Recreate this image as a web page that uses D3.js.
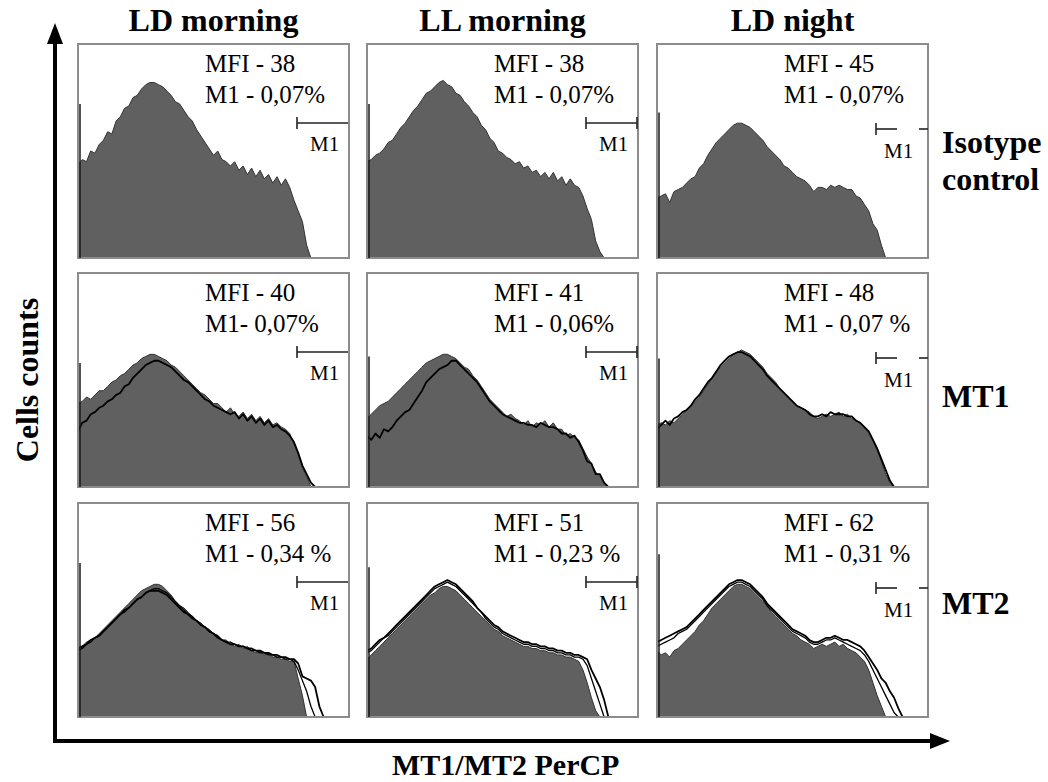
<!DOCTYPE html>
<html>
<head>
<meta charset="utf-8">
<script src="https://cdn.jsdelivr.net/npm/d3@7"></script>
<style>
  body { margin: 0; background: #fff; }
  svg text { font-family: "Liberation Serif", "Times New Roman", serif; }
</style>
</head>
<body>
<div id="chart"></div>
<script>
// column / row headings
const columns = ['LD morning', 'LL morning', 'LD night'];
const rowLabels = [['Isotype', 'control'], ['MT1'], ['MT2']];

// panel annotations, row by row
const mfiLabels = [
    ['MFI - 38', 'MFI - 38', 'MFI - 45'],
    ['MFI - 40', 'MFI - 41', 'MFI - 48'],
    ['MFI - 56', 'MFI - 51', 'MFI - 62']
];
const m1Labels = [
    ['M1 - 0,07%', 'M1 - 0,07%', 'M1 - 0,07%'],
    ['M1- 0,07%', 'M1 - 0,06%', 'M1 - 0,07 %'],
    ['M1 - 0,34 %', 'M1 - 0,23 %', 'M1 - 0,31 %']
];

// first channel spike (% of panel height)
const spikes = [[72, 72, 68], [58, 61, 60], [72, 70, 76]];

// histogram counts (% of panel height), one value per bin
// isotype control (filled grey)
const isoLDm = [44,46,45,50,49,53,55,59,58,64,66,70,71,75,76,79,81,82,82,81,80,78,76,73,72,69,66,64,60,57,54,51,48,50,46,45,43,45,41,43,39,42,38,41,37,39,35,38,34,37,33,27,22,17,6,0];
const isoLLm = [45,46,48,49,51,54,55,58,61,63,66,69,71,74,77,78,80,82,83,81,80,77,76,73,71,68,66,62,60,56,54,50,49,47,46,44,45,42,43,40,41,38,40,37,40,36,38,34,37,34,33,29,23,18,8,3,0];
const isoLDn = [28,29,30,26,31,32,33,35,37,38,42,44,48,51,54,56,58,60,62,63,63,62,61,59,57,55,52,50,48,46,43,42,40,38,37,36,34,31,33,33,32,34,33,34,33,32,32,29,28,25,22,16,13,6,0];

// MT1 stained: grey fill + black overlay
const mt1LDmFill = [39,40,42,41,43,45,45,47,49,50,52,53,55,57,58,60,61,62,62,61,60,59,57,56,54,52,50,48,46,44,43,41,39,39,37,35,37,34,33,35,32,34,31,33,30,32,29,30,28,27,25,20,15,9,5,0];
const mt1LDmLine = [26,30,31,34,35,37,38,40,41,43,44,47,48,51,53,55,57,58,59,59,58,57,56,54,52,50,49,47,45,43,41,40,38,37,36,35,34,35,32,34,31,33,30,32,29,31,28,29,27,26,24,21,16,10,6,2,0];
const mt1LLmFill = [32,34,36,38,39,40,42,44,46,48,50,52,54,56,58,59,60,61,62,62,61,60,58,56,55,52,50,47,44,41,39,37,35,33,34,32,31,29,31,28,30,29,31,28,30,27,27,24,25,23,22,18,14,11,7,5,2,0];
const mt1LLmLine = [24,22,25,23,27,26,28,31,33,35,36,39,42,45,49,51,53,55,56,57,59,59,57,55,53,51,49,46,43,40,38,36,34,33,32,31,30,30,29,29,28,30,29,28,28,27,25,25,23,24,21,17,12,11,6,6,2,0];
const mt1LDnFill = [29,30,29,31,30,32,34,36,38,40,42,45,48,51,54,56,58,60,62,63,64,63,62,60,58,56,53,51,49,46,44,42,40,38,37,36,35,33,32,33,34,33,34,35,33,34,32,31,30,28,25,22,17,12,6,2,0];
const mt1LDnLine = [27,29,31,29,32,33,35,36,38,41,43,46,49,51,54,57,59,61,62,63,63,62,61,59,57,55,52,50,48,46,44,42,40,38,37,36,34,33,33,34,33,35,34,34,34,33,33,31,30,28,26,22,18,13,8,3,0];

// MT2 stained: grey fill + two black overlays
const mt2LDmFill = [31,33,35,36,37,39,41,43,45,47,49,51,53,55,57,59,60,61,62,62,61,59,57,54,52,51,49,47,45,44,42,41,39,38,36,36,34,33,34,32,33,31,30,31,29,30,28,28,27,27,26,26,18,10,0];
const mt2LDmLine = [32,33,34,36,37,38,40,42,44,46,48,50,51,53,55,56,58,59,59,59,58,57,55,53,51,49,48,46,45,43,42,40,39,37,36,35,34,34,33,33,32,32,31,31,30,30,29,29,28,28,27,27,25,19,18,17,14,5,0];
const mt2LDmLine2 = [31,32,34,35,37,38,40,42,44,46,48,49,51,53,55,56,58,59,60,60,59,58,56,54,52,50,48,47,45,43,42,40,39,38,36,35,35,34,33,33,32,31,31,30,30,29,29,28,28,27,27,26,22,17,12,5,0];
const mt2LLmFill = [27,29,31,33,35,37,39,41,43,45,47,49,51,53,55,57,58,60,61,61,60,59,57,55,53,51,49,47,45,43,41,40,38,37,36,35,34,33,33,32,32,31,31,30,30,29,29,28,28,27,26,22,16,9,3,0];
const mt2LLmLine = [31,32,34,36,37,39,41,43,45,47,49,51,53,55,57,59,61,62,63,64,63,62,60,58,56,54,51,49,47,45,43,42,40,39,38,37,36,35,35,34,34,33,33,32,32,31,31,30,30,29,29,28,27,22,18,14,8,0];
const mt2LLmLine2 = [30,31,33,35,37,38,40,42,44,46,48,50,52,54,56,58,60,61,62,63,62,61,59,57,55,53,51,49,46,44,42,41,39,38,37,36,35,34,34,33,33,32,32,31,31,30,30,29,29,28,28,27,24,18,12,6,0];
const mt2LDnFill = [31,29,30,28,31,32,34,36,38,40,43,45,48,51,53,55,57,59,61,62,62,61,60,58,56,54,52,49,47,45,43,41,39,38,36,35,34,32,33,34,33,34,35,33,34,32,31,30,28,26,22,16,10,5,0];
const mt2LDnLine = [35,36,37,38,39,40,41,42,44,46,48,50,52,54,56,58,60,62,63,64,64,63,62,60,58,56,53,51,49,47,45,43,41,40,39,38,36,35,35,36,37,37,38,37,36,36,35,34,33,31,28,25,22,18,16,12,9,4,0];
const mt2LDnLine2 = [33,34,35,36,37,39,40,41,43,45,47,49,51,53,55,57,59,61,62,63,63,62,61,59,57,55,52,50,48,46,44,42,40,39,38,37,35,34,34,35,36,36,37,36,35,34,33,32,31,29,26,22,18,14,10,6,2,0];

const fills = [
    [isoLDm, isoLLm, isoLDn],
    [mt1LDmFill, mt1LLmFill, mt1LDnFill],
    [mt2LDmFill, mt2LLmFill, mt2LDnFill]
];
const overlays = [
    [[], [], []],
    [[mt1LDmLine], [mt1LLmLine], [mt1LDnLine]],
    [[mt2LDmLine, mt2LDmLine2], [mt2LLmLine, mt2LLmLine2], [mt2LDnLine, mt2LDnLine2]]
];

const width = 1048, height = 782;
const colX = [78, 367, 657], rowY = [44, 273, 503];
const panelW = 271, panelH = 214;

const svg = d3.select('#chart')
    .append('svg')
    .attr('width', width)
    .attr('height', height);

// scales shared by all panels
const xScale = d3.scaleLinear().domain([0, 64]).range([0, panelW]);
const yScale = d3.scaleLinear().domain([0, 100]).range([panelH, 0]);

const area = d3.area()
    .x((d, i) => xScale(i))
    .y0(yScale(0))
    .y1(d => yScale(d));

const line = d3.line()
    .x((d, i) => xScale(i))
    .y(d => yScale(d));

rowY.forEach((py, r) => {
    colX.forEach((px, c) => {
        const g = svg.append('g')
            .attr('transform', 'translate(' + px + ',' + py + ')');

        g.append('path')
            .datum(fills[r][c])
            .attr('d', area)
            .attr('fill', '#606060')
            .attr('stroke', '#333')
            .attr('stroke-width', 1);

        overlays[r][c].forEach((o, k) => {
            g.append('path')
                .datum(o)
                .attr('d', line)
                .attr('fill', 'none')
                .attr('stroke', '#000')
                .attr('stroke-width', k == 0 ? 1.8 : 1.3)
                .attr('stroke-linejoin', 'round');
        });

        g.append('rect')
            .attr('width', panelW)
            .attr('height', panelH)
            .attr('fill', 'none')
            .attr('stroke', '#8c8c8c')
            .attr('stroke-width', 2);

        // left edge spike (first channel)
        g.append('line')
            .attr('x1', 2).attr('x2', 2)
            .attr('y1', yScale(0)).attr('y2', yScale(spikes[r][c]))
            .attr('stroke', '#1a1a1a')
            .attr('stroke-width', 1.5);

        g.append('text')
            .attr('x', 127).attr('y', 28)
            .attr('font-size', 25)
            .text(mfiLabels[r][c]);
        g.append('text')
            .attr('x', 127).attr('y', 59)
            .attr('font-size', 25)
            .text(m1Labels[r][c]);

        // M1 gate marker
        const by = c == 2 ? 85 : 79;
        const m = g.append('g').attr('stroke', '#222').attr('stroke-width', 1.6);
        m.append('line').attr('x1', 219).attr('x2', 219).attr('y1', by - 6).attr('y2', by + 6);
        if (c == 2) {
            m.append('line').attr('x1', 219).attr('x2', 240).attr('y1', by).attr('y2', by);
            m.append('line').attr('x1', 262).attr('x2', panelW).attr('y1', by).attr('y2', by);
        } else {
            m.append('line').attr('x1', 219).attr('x2', panelW - 1).attr('y1', by).attr('y2', by);
        }
        if (c == 1) {
            m.append('line').attr('x1', panelW - 1).attr('x2', panelW - 1).attr('y1', by - 6).attr('y2', by + 6);
        }
        g.append('text')
            .attr('x', c == 2 ? 227 : 232)
            .attr('y', c == 2 ? 114 : 107)
            .attr('font-size', 21)
            .text('M1');
    });
});

// column headers
svg.selectAll('.colhead')
    .data(columns)
    .enter()
    .append('text')
    .attr('class', 'colhead')
    .attr('x', (d, i) => colX[i] + panelW / 2)
    .attr('y', 31)
    .attr('text-anchor', 'middle')
    .attr('font-size', 32)
    .attr('font-weight', 'bold')
    .text(d => d);

// row labels
const rowBase = [153, 407, 614];
rowLabels.forEach((lines, r) => {
    lines.forEach((t, k) => {
        svg.append('text')
            .attr('x', 942)
            .attr('y', rowBase[r] + k * 37)
            .attr('font-size', 32)
            .attr('font-weight', 'bold')
            .text(t);
    });
});

// axes arrows
svg.append('line')
    .attr('x1', 55).attr('x2', 55).attr('y1', 743).attr('y2', 40)
    .attr('stroke', '#000').attr('stroke-width', 4);
svg.append('path')
    .attr('d', 'M55,23 L47,44 L63,44 Z')
    .attr('fill', '#000');
svg.append('line')
    .attr('x1', 53).attr('x2', 934).attr('y1', 741).attr('y2', 741)
    .attr('stroke', '#000').attr('stroke-width', 4);
svg.append('path')
    .attr('d', 'M950,741 L930,733 L930,749 Z')
    .attr('fill', '#000');

svg.append('text')
    .attr('transform', 'translate(38,380) rotate(-90)')
    .attr('text-anchor', 'middle')
    .attr('font-size', 32)
    .attr('font-weight', 'bold')
    .text('Cells counts');

svg.append('text')
    .attr('x', 392).attr('y', 775)
    .attr('font-size', 30)
    .attr('font-weight', 'bold')
    .text('MT1/MT2 PerCP');
</script>
</body>
</html>
